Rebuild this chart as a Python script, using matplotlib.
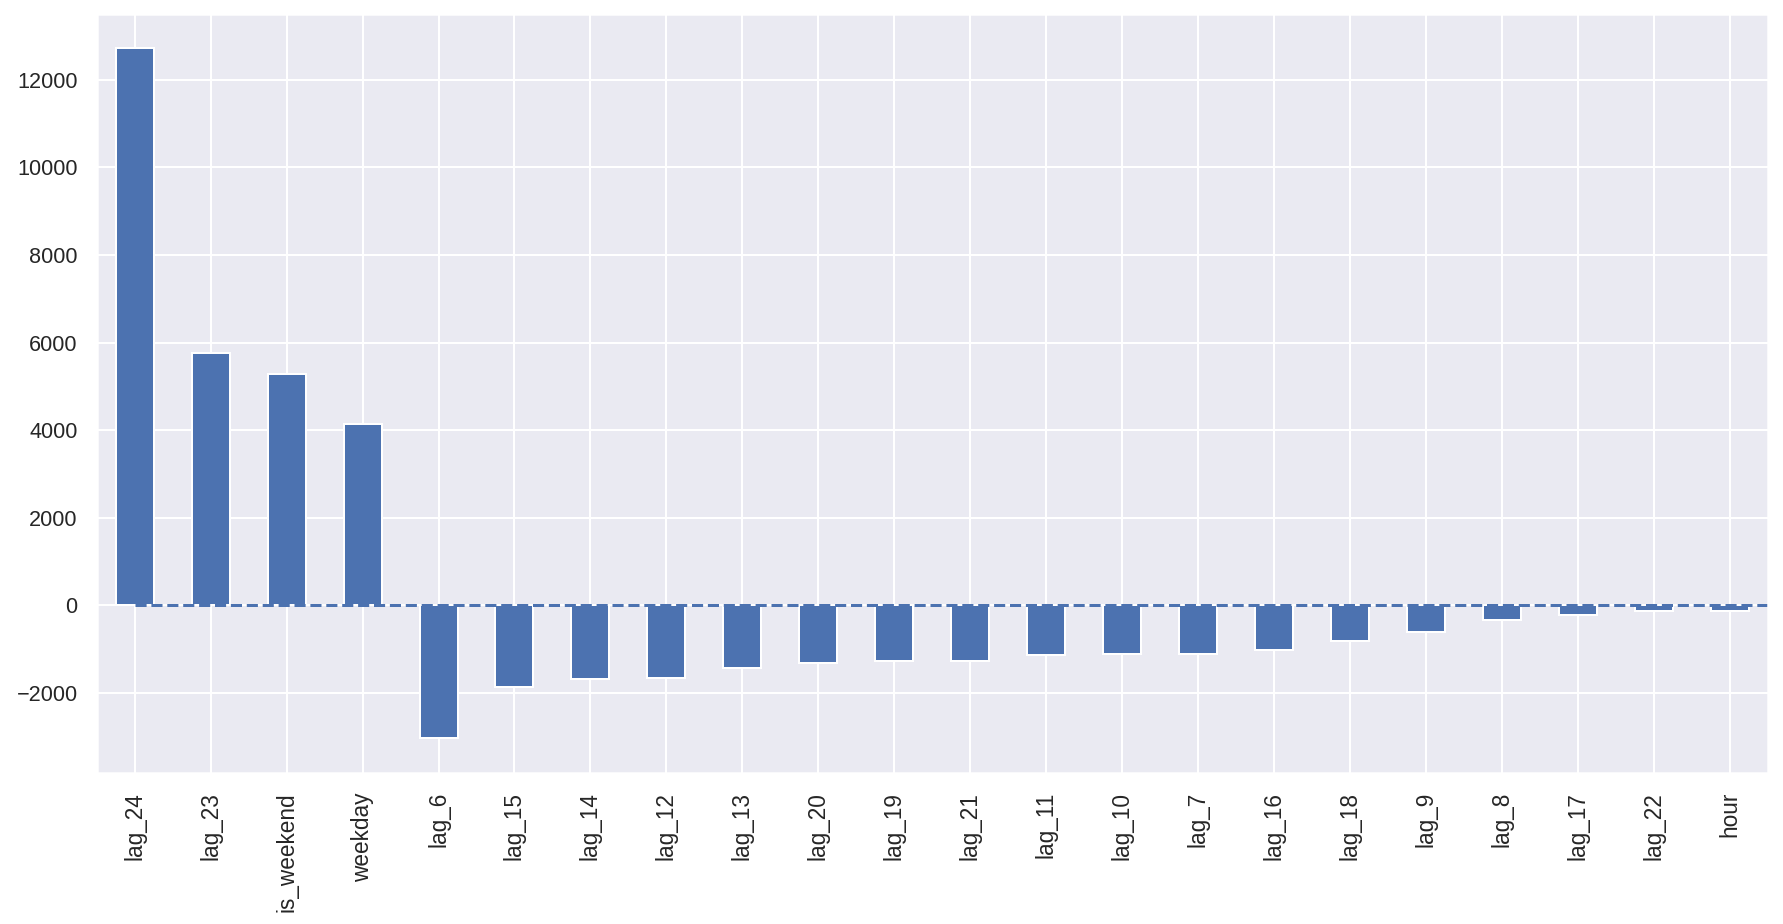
import numpy as np
import pandas as pd
import matplotlib
matplotlib.use("Agg")
import matplotlib.pyplot as plt
import seaborn as sns

# coefficients of the linear model, sorted as in the original chart
features = ["lag_24", "lag_23", "is_weekend", "weekday", "lag_6", "lag_15",
            "lag_14", "lag_12", "lag_13", "lag_20", "lag_19", "lag_21",
            "lag_11", "lag_10", "lag_7", "lag_16", "lag_18", "lag_9",
            "lag_8", "lag_17", "lag_22", "hour"]
coefs = [12724, 5763, 5279, 4139, -3038, -1852,
         -1669, -1647, -1418, -1311, -1275, -1259,
         -1122, -1115, -1099, -1008, -803, -598,
         -340, -226, -135, -130]

sns.set_theme()
plt.rcParams["font.family"] = ["Liberation Sans", "DejaVu Sans"]

DPI = 144
fig, ax = plt.subplots(figsize=(1783 / DPI, 924 / DPI), dpi=DPI)
fig.subplots_adjust(left=0.0542, right=0.9916, top=0.9853, bottom=0.1634)

coef_s = pd.Series(coefs, index=features)
coef_s.plot.bar(ax=ax, color="#4C72B0")
ax.hlines(y=0, xmin=0, xmax=len(coef_s), linestyles="dashed", colors="#4C72B0", lw=1.5)
ax.set_xlim(-0.5, len(coef_s) - 0.5)
ax.tick_params(axis="x", labelsize=11.3)
ax.tick_params(axis="y", labelsize=10.8)

fig.savefig("out.png", dpi=DPI)
